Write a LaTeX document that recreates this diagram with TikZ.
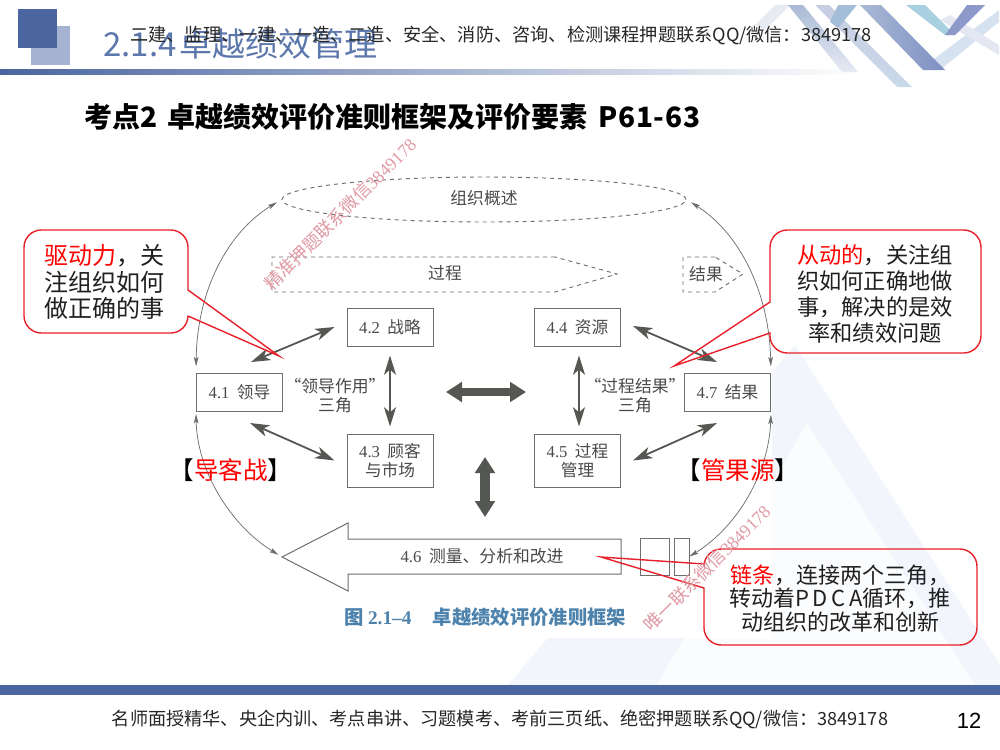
\documentclass[tikz,border=0pt]{standalone}
\usepackage{fontspec}
\usepackage{tikz}
\usetikzlibrary{arrows.meta,calc,shapes.geometric}
\setmainfont{Noto Sans CJK SC}
\newfontfamily\bookfont{Liberation Serif}
\newfontfamily\arialfont{Liberation Sans}
\newcommand\fsz[1]{\fontsize{#1}{1.2\dimexpr#1\relax}\selectfont}
\newcommand\nm[1]{{\bookfont #1}}
\definecolor{slateblue}{HTML}{4A659F}
\definecolor{paleslate}{HTML}{A5B2D1}
\definecolor{barmid}{HTML}{BCD2E4}
\definecolor{titleblue}{HTML}{5C77AC}
\definecolor{inkgray}{HTML}{4A4A4A}
\definecolor{edgegray}{HTML}{6E6E6E}
\definecolor{arrowgray}{HTML}{555753}
\definecolor{callred}{HTML}{E8202A}
\definecolor{capblue}{HTML}{4D82AC}
\definecolor{stampred}{HTML}{E09AA3}
\definecolor{faintA}{HTML}{F2F6FC}
\definecolor{faintB}{HTML}{FBFCFE}
\definecolor{ribA}{HTML}{E6EBF3}
\definecolor{ribB}{HTML}{D6E2EF}
\definecolor{ribC}{HTML}{E4E6F2}
\definecolor{ribD}{HTML}{C9D9E8}
\definecolor{ribE}{HTML}{C8CDE3}
\definecolor{ribF}{HTML}{A4BEDA}
\definecolor{ribG}{HTML}{A9BAD6}
\definecolor{ribH}{HTML}{7E8FC2}
\definecolor{ribI}{HTML}{A9D0E0}
\definecolor{ribJ}{HTML}{8C99C9}
\tikzset{
  pillar/.style={draw=edgegray,line width=0.75pt,text=inkgray,inner sep=0pt,align=center,
    font=\fsz{12.5pt},minimum width=64.5pt},
  figtext/.style={text=inkgray,inner sep=0pt,align=center,font=\fsz{12.6pt}},
  dashline/.style={draw=edgegray,dashed,line width=0.7pt},
  biarrow/.style={<->,>={Stealth[length=14.5pt,width=9pt,inset=4pt]},draw=arrowgray,fill=arrowgray,line width=1.35pt},
  loopline/.style={<->,>={Stealth[length=7pt,width=3.5pt,inset=1.5pt]},draw=edgegray,line width=0.55pt},
  bigarrow/.style={<->,>={Triangle[length=12pt,width=14.5pt]},draw=arrowgray,line width=6pt},
  calloutline/.style={draw=callred,line width=1.05pt},
  calltext/.style={inner sep=0pt,align=center,text=black!88},
  stamp/.style={text=stampred,rotate=45,inner sep=0pt},
}
\begin{document}
\begin{tikzpicture}[x=0.75pt,y=-0.75pt]
  \useasboundingbox (0,0) rectangle (1000,750);

  % pale background shape
  \fill [faintA] (508,685) -- (795,345) -- (1000,665) -- (1000,685) -- cycle;
  \fill [faintB] (807,423) -- (657,685) -- (975,685) -- cycle;
  \fill [white] (155,150) rectangle (772,638);

  % slide header
  \fill [paleslate] (31,26) rectangle (70,65);
  \fill [slateblue] (18,9) rectangle (57,48);
  \shade [left color=slateblue,middle color=barmid,right color=white] (0,69) rectangle (860,74);

  \fill [ribA] (790,5) -- (775,5) -- (755,25) -- (765,30) -- cycle;
  \fill [ribB] (999,10) -- (999,22) -- (940,70) -- (930,62) -- cycle;
  \fill [ribC] (940,20) -- (950,15) -- (999,45) -- (999,55) -- cycle;
  \shade [top color=ribG,bottom color=ribA] (788,5) -- (803,5) -- (858,72) -- (842,72) -- cycle;
  \shade [top color=ribE,bottom color=ribD] (815,5) -- (829,5) -- (912,87) -- (897,87) -- cycle;
  \fill [ribF] (838,5) -- (857,5) -- (838,28) -- (830,22) -- cycle;
  \shade [left color=ribG,right color=ribH] (860,5) -- (881,5) -- (945,70) -- (923,70) -- cycle;
  \fill [ribI] (906,5) -- (925,5) -- (955,35) -- (945,35) -- cycle;
  \fill [ribJ] (967,5) -- (985,5) -- (955,35) -- (945,35) -- cycle;

  \node [text=titleblue,anchor=west,inner sep=0pt,font=\fsz{24.75pt}] (slidehead) at (103,44) {2.1.4\hspace{2pt}卓越绩效管理};
  \node [text=black!85,anchor=west,inner sep=0pt,font=\fsz{13.65pt}] (adtop) at (130,35) {二建、监理、一建、一造、二造、安全、消防、咨询、检测课程押题联系QQ/微信：3849178};
  \node [anchor=west,inner sep=0pt,font=\fsz{21pt}\bfseries] (pointhead) at (84,117) {考点2\hspace{8pt}卓越绩效评价准则框架及评价要素\hspace{8pt}P\kern.5pt6\kern.5pt1\kern.5pt-\kern.5pt6\kern.5pt3};

  % dashed top part
  \node [dashline,ellipse,minimum width=303pt,minimum height=33.75pt,inner sep=0pt] (orgview) at (484,199.5) {};
  \node [figtext] (orgtext) at (484,198) {组织概述};
  \draw [dashline] (555,257) -- (272,257) -- (272,292) -- (555,292) -- (617,274) -- cycle;
  \node [figtext] (proctext) at (445,273) {过程};
  \draw [dashline] (715,257) -- (683,257) -- (683,292) -- (715,292) -- (743,274) -- cycle;
  \node [figtext] (restext) at (706,274) {结果};

  % the seven categories
  \node [pillar,minimum height=28.5pt] (lead) at (239.5,392.5) {\nm{4.1}\ \ 领导};
  \node [pillar,minimum height=28.5pt] (strat) at (390,327) {\nm{4.2}\ \ 战略};
  \node [pillar,minimum height=39.75pt] (cust) at (390,460.5) {\nm{4.3}\ \ 顾客\\[-1pt]与市场};
  \node [pillar,minimum height=28.5pt] (reso) at (577.5,327) {\nm{4.4}\ \ 资源};
  \node [pillar,minimum height=39.75pt] (proc) at (577.5,460.5) {\nm{4.5}\ \ 过程\\[-1pt]管理};
  \node [pillar,minimum height=28.5pt] (resu) at (727.5,392.5) {\nm{4.7}\ \ 结果};
  \node [figtext] (triL) at (335,396) {“领导作用”\\[-1pt]三角};
  \node [figtext] (triR) at (635,396) {“过程结果”\\[-1pt]三角};

  \draw [biarrow] ($(lead.north)+(11.5,-11)$) -- ($(strat.west)+(-12,0)$);
  \draw [biarrow] ($(lead.south)+(10.5,11)$) -- ($(cust.west)+(-12,0)$);
  \draw [biarrow] ($(strat.south)+(0,9)$) -- ($(cust.north)+(0,-7)$);
  \draw [biarrow] ($(reso.east)+(12,-1)$) -- ($(resu.north)+(-10.5,-11)$);
  \draw [biarrow] ($(proc.east)+(12,0)$) -- ($(resu.south)+(-10.5,11)$);
  \draw [biarrow] ($(reso.south)+(1.5,9)$) -- ($(proc.north)+(1.5,-7)$);

  \coordinate (hubL) at (446,392);
  \coordinate (hubR) at (526,392);
  \coordinate (hubT) at (485,457);
  \coordinate (hubB) at (485,517);
  \draw [bigarrow] (hubL) -- (hubR);
  \draw [bigarrow,line width=7.5pt] (hubT) -- (hubB);

  % big arrow with the chain at its tail
  \coordinate (tiparrow) at (282,557);
  \draw [draw=edgegray,line width=0.75pt] (tiparrow) -- (348,523) -- (348,539) -- (621,539) -- (621,574) -- (348,574) -- (348,591) -- cycle;
  \node [figtext] (meastext) at (482,556) {\nm{4.6}\ \ 测量、分析和改进};
  \node [pillar,minimum width=21.75pt,minimum height=27.75pt] (chainA) at (654.5,556.5) {};
  \node [pillar,minimum width=11.25pt,minimum height=27.75pt] (chainB) at (681.5,556.5) {};

  % outer loop
  \draw [loopline,shorten <=5pt,shorten >=4pt] (lead.north west) .. controls (197,290) and (228,232) .. (orgview.west);
  \draw [loopline,shorten <=5pt,shorten >=4pt] (resu.north east) .. controls (769,290) and (738,232) .. (orgview.east);
  \draw [loopline,shorten <=1.5pt,shorten >=3pt] (lead.south west) .. controls (197,470) and (230,525) .. (tiparrow);
  \draw [loopline,shorten <=2pt] (resu.south east) .. controls (769,470) and (740,525) .. (chainB.east);

  \node [text=capblue,inner sep=0pt,anchor=west,font=\fsz{14.5pt}\bfseries] (figcap) at (344,617) {图 \nm{2.1–4}\hspace{16pt}卓越绩效评价准则框架};

  % red notes
  \coordinate (tipdrive) at (279,356);
  \draw [calloutline] (188,316) -- (tipdrive) -- (188,290) [rounded corners=13pt] -- (188,230) -- (24,230) -- (24,333) -- (188,333) [sharp corners] -- cycle;
  \node [calltext,font=\fsz{18pt}] (drivetext) at (105,282) {\textcolor{red}{驱动力}，关\\[-1.5pt]注组织如何\\[-1.5pt]做正确的事};

  \coordinate (tipdriven) at (674,366);
  \draw [calloutline] (770,333) -- (tipdriven) -- (770,302) [rounded corners=13pt] -- (770,230) -- (981,230) -- (981,353) -- (770,353) [sharp corners] -- cycle;
  \node [calltext,font=\fsz{16.7pt}] (driventext) at (875,294) {\textcolor{red}{从动的}，关注组\\[-0.5pt]织如何正确地做\\[-0.5pt]事，解决的是效\\[-0.5pt]率和绩效问题};

  \coordinate (tipchain) at (601,557);
  \draw [calloutline] (704,588) -- (tipchain) -- (704,564) [rounded corners=13pt] -- (704,549) -- (977,549) -- (977,645) -- (704,645) [sharp corners] -- cycle;
  \node [calltext,font=\fsz{16.5pt}] (chaintext) at (840,598.5) {\textcolor{red}{链条}，连接两个三角，\\[-2pt]转动着P\,D\,C\,A循环，推\\[-2pt]动组织的改革和创新};

  \node [inner sep=0pt,font=\fsz{18.4pt}] (leftword) at (231,470) {【\textcolor{red}{导客战}】};
  \node [inner sep=0pt,font=\fsz{18.4pt}] (rightword) at (738,470) {【\textcolor{red}{管果源}】};

  % stamps
  \node [stamp,font=\fsz{13.4pt}] (stampA) at (340,214) {精准押题联系微信\nm{3849178}};
  \node [stamp,font=\fsz{13.4pt}] (stampB) at (707,568) {唯一联系微信\nm{3849178}};

  % slide footer
  \fill [slateblue] (0,685) rectangle (1000,695);
  \node [text=black!85,inner sep=0pt,font=\fsz{13.62pt}] (adfoot) at (500,719) {名师面授精华、央企内训、考点串讲、习题模考、考前三页纸、绝密押题联系QQ/微信：3849178};
  \node [inner sep=0pt,font=\fsz{16.5pt}\arialfont] (pagenum) at (969,721) {12};
\end{tikzpicture}
\end{document}
